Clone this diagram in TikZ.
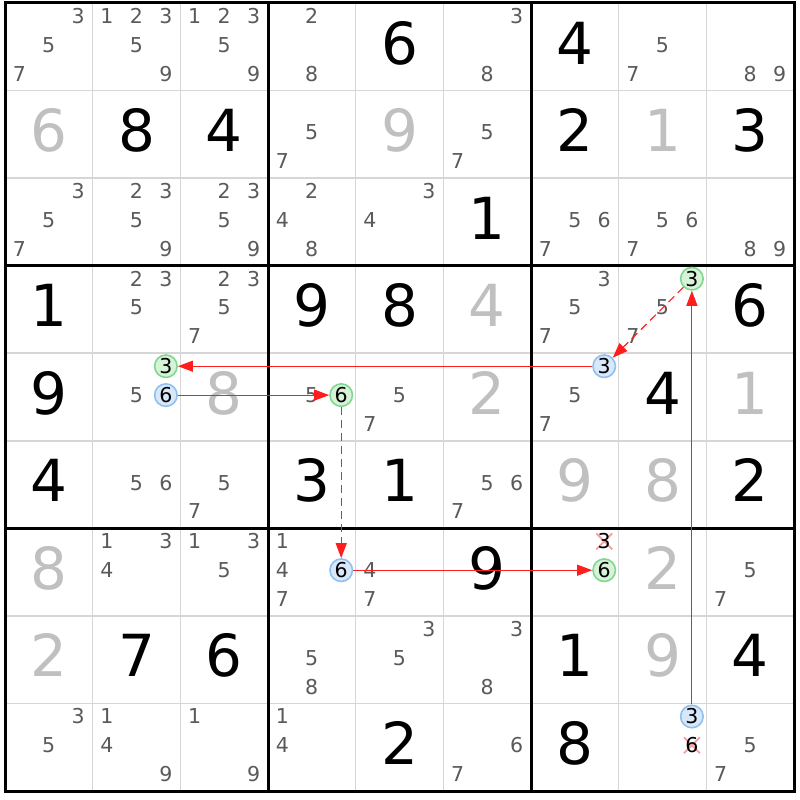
\documentclass[tikz,border=0pt]{standalone}
\usepackage{fontspec}
\setmainfont{DejaVu Sans}
\usetikzlibrary{arrows.meta}
\definecolor{candgray}{HTML}{5A5A5A}
\definecolor{solvedgray}{HTML}{C0C0C0}
\definecolor{thingray}{HTML}{D6D6D6}
\definecolor{gfill}{HTML}{D6F2D8}
\definecolor{gline}{HTML}{80D890}
\definecolor{bfill}{HTML}{D8E8FA}
\definecolor{bline}{HTML}{90C0F0}
\definecolor{linkred}{HTML}{FF1E1E}
\definecolor{xcol}{HTML}{F4A0A0}
\newcommand\candfont{\fontsize{20.5}{21}\selectfont}
\begin{document}
\begin{tikzpicture}[x=1pt,y=-1pt,
  bigd/.style={anchor=base,inner sep=0pt,font=\fontsize{58}{58}\selectfont},
  givend/.style={bigd,text=black},
  solvd/.style={bigd,text=solvedgray},
  candd/.style={anchor=base,inner sep=0pt,font=\candfont,text=candgray},
  elimd/.style={anchor=base,inner sep=0pt,font=\candfont,text=black},
  hlg/.style={circle,draw=gline,fill=gfill,line width=1.6pt,minimum size=22.5pt,inner sep=0pt,font=\candfont,text=black},
  hlb/.style={circle,draw=bline,fill=bfill,line width=1.6pt,minimum size=22.5pt,inner sep=0pt,font=\candfont,text=black},
  strong/.style={draw=linkred,line width=1.1pt,-{Triangle[length=15pt,width=11pt]}},
  weak/.style={strong,dash pattern=on 8pt off 5pt},
  xline/.style={draw=xcol,line width=1.8pt},
  thinl/.style={draw=thingray,line width=1.6pt},
  thickl/.style={draw=black,line width=3pt,line cap=rect}]
\useasboundingbox[fill=white] (0,0) rectangle (800,800);
% thin grid lines
\foreach \i in {1,2,4,5,7,8} {
  \draw[thinl] ({5+\i*87.67},3) -- ({5+\i*87.67},791);
  \draw[thinl] (5,{3+\i*87.56}) -- (794,{3+\i*87.56});
}
% given digits
\foreach \r/\c/\v in {1/5/6,1/7/4,2/2/8,2/3/4,2/7/2,2/9/3,3/6/1,4/1/1,4/4/9,4/5/8,4/9/6,
  5/1/9,5/8/4,6/1/4,6/4/3,6/5/1,6/9/2,7/6/9,8/2/7,8/3/6,8/7/1,8/9/4,9/5/2,9/7/8}
  \node[givend] (g\r\c) at ({5+(\c-1)*87.67+43.8},{3+(\r-1)*87.56+61}) {\v};
% solved digits (gray)
\foreach \r/\c/\v in {2/1/6,2/5/9,2/8/1,4/6/4,5/3/8,5/6/2,5/9/1,6/7/9,6/8/8,7/1/8,7/8/2,8/1/2,8/8/9}
  \node[solvd] (s\r\c) at ({5+(\c-1)*87.67+43.8},{3+(\r-1)*87.56+61}) {\v};
% candidates
\foreach \r/\c/\ds in {1/1/{3,5,7},1/2/{1,2,3,5,9},1/3/{1,2,3,5,9},1/4/{2,8},1/6/{3,8},1/8/{5,7},1/9/{8,9},
  2/4/{5,7},2/6/{5,7},
  3/1/{3,5,7},3/2/{2,3,5,9},3/3/{2,3,5,9},3/4/{2,4,8},3/5/{3,4},3/7/{5,6,7},3/8/{5,6,7},3/9/{8,9},
  4/2/{2,3,5},4/3/{2,3,5,7},4/7/{3,5,7},4/8/{5,7},
  5/2/{5},5/4/{5},5/5/{5,7},5/7/{5,7},
  6/2/{5,6},6/3/{5,7},6/6/{5,6,7},
  7/2/{1,3,4},7/3/{1,3,5},7/4/{1,4,7},7/5/{4,7},7/9/{5,7},
  8/4/{5,8},8/5/{3,5},8/6/{3,8},
  9/1/{3,5},9/2/{1,4,9},9/3/{1,9},9/4/{1,4},9/6/{6,7},9/9/{5,7}}
{
  \foreach \d in \ds {
    \pgfmathsetmacro\px{5+(\c-1)*87.67+14.3+mod(\d-1,3)*29.45}
    \pgfmathsetmacro\py{3+(\r-1)*87.56+20.4+floor((\d-1)/3)*28.85}
    \node[candd] (k\r\c\d) at (\px,\py) {\d};
  }
}
% thick box lines
\foreach \i in {0,3,6,9} {
  \draw[thickl] ({5+\i*87.67},3) -- ({5+\i*87.67},791);
  \draw[thickl] (5,{3+\i*87.56}) -- (794,{3+\i*87.56});
}
% eliminated candidates
\node[elimd] (x773) at (604.22,548.8) {\phantom{3}};
\node[elimd] (x986) at (691.89,752.7) {\phantom{6}};
\draw[xline] ([shift={(-8,-8)}]x773.center) -- ([shift={(8,8)}]x773.center);
\draw[xline] ([shift={(-8,8)}]x773.center) -- ([shift={(8,-8)}]x773.center);
\draw[xline] ([shift={(-8,-8)}]x986.center) -- ([shift={(8,8)}]x986.center);
\draw[xline] ([shift={(-8,8)}]x986.center) -- ([shift={(8,-8)}]x986.center);
\node[elimd] (e773) at (x773.base) {3};
\node[elimd] (e986) at (x986.base) {6};
% highlighted candidates
\node[hlg] (A) at (691.89,278.7) {3};
\node[hlb] (B) at (604.22,366.2) {3};
\node[hlg] (C) at (165.87,366.2) {3};
\node[hlb] (D) at (165.87,395.1) {6};
\node[hlg] (E) at (341.21,395.1) {6};
\node[hlb] (F) at (341.21,570.2) {6};
\node[hlg] (G) at (604.22,570.2) {6};
\node[hlb] (H) at (691.89,716.5) {3};
% chain links
\draw[strong] (H) -- (A);
\draw[weak] (A) -- (B);
\draw[strong] (B) -- (C);
\draw[strong] (D) -- (E);
\draw[weak] (E) -- (F);
\draw[strong] (F) -- (G);
\end{tikzpicture}
\end{document}
